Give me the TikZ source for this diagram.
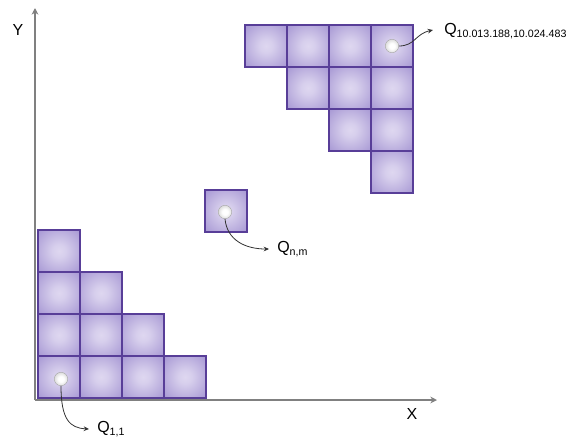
\documentclass[tikz,border=0pt]{standalone}
\usepackage{fontspec}
\setmainfont{Liberation Sans}
\usetikzlibrary{arrows.meta}
\definecolor{cellout}{RGB}{148,130,202}
\definecolor{cellin}{RGB}{222,215,240}
\definecolor{celledge}{RGB}{88,62,152}
\definecolor{axisgray}{RGB}{128,128,128}
\pgfdeclareradialshading{cellshade}{\pgfpoint{0bp}{0bp}}{%
  color(0bp)=(cellin); color(8bp)=(cellin!90!cellout); color(46bp)=(cellout); color(50bp)=(cellout)}
\pgfdeclareradialshading{ballshade}{\pgfpoint{0bp}{0bp}}{%
  color(0bp)=(white); color(10bp)=(white); color(30bp)=(gray!35); color(50bp)=(gray!80)}
\tikzset{
  cell/.style={rectangle, draw=celledge, line width=0.9pt, inner sep=0pt,
    minimum size=31.5pt, shading=cellshade, shade},
  ball/.style={circle, draw=gray!70, line width=0.3pt, inner sep=0pt,
    minimum size=10pt, shading=ballshade, shade},
  axis/.style={draw=axisgray, line width=1.5pt, -{Stealth[length=5pt,width=5pt]}},
  pointer/.style={draw=black!80, line width=0.6pt, -{Stealth[length=4pt,width=3.5pt]}},
  qlabel/.style={anchor=west, inner sep=0pt, font=\fontsize{12}{14}\selectfont},
  axlabel/.style={inner sep=0pt, font=\fontsize{12}{14}\selectfont}
}
\newcommand{\qsub}[1]{\textsubscript{\fontsize{8}{9}\selectfont #1}}
\begin{document}
\begin{tikzpicture}[x=0.75pt,y=-0.75pt]
\useasboundingbox (0,0) rectangle (581,436);
% axes
\coordinate (O) at (35,400);
\coordinate (ytop) at (35,8);
\coordinate (xend) at (437,400);
\draw[axis] (O) -- (ytop);
\draw[axis] (O) -- (xend);
\node[axlabel] (ylab) at (18,30) {Y};
\node[axlabel] (xlab) at (412,414) {X};
% bottom-left staircase
\foreach \c/\x in {1/59,2/101,3/143,4/185} \node[cell] (b1\c) at (\x,377) {};
\foreach \c/\x in {1/59,2/101,3/143} \node[cell] (b2\c) at (\x,335) {};
\foreach \c/\x in {1/59,2/101} \node[cell] (b3\c) at (\x,293) {};
\node[cell] (b41) at (59,251) {};
% middle cell
\node[cell] (mid) at (226,211) {};
% top-right staircase
\foreach \c/\x in {1/266,2/308,3/350,4/392} \node[cell] (t1\c) at (\x,46) {};
\foreach \c/\x in {2/308,3/350,4/392} \node[cell] (t2\c) at (\x,88) {};
\foreach \c/\x in {3/350,4/392} \node[cell] (t3\c) at (\x,130) {};
\node[cell] (t44) at (392,172) {};
% balls
\node[ball] (p11) at (61,379) {};
\node[ball] (pnm) at (225,212) {};
\node[ball] (pbig) at (392,46) {};
% labels
\node[qlabel] (l11) at (97,429) {Q\qsub{1,1}};
\node[qlabel] (lnm) at (277,249) {Q\qsub{n,m}};
\node[qlabel] (lbig) at (444,31) {Q\qsub{10.013.188,10.024.483}};
\coordinate (e11) at (89,429);
\coordinate (enm) at (269,249);
\coordinate (ebig) at (433,30);
% pointers
\draw[pointer] (p11.south) .. controls (61,420) and (70,428) .. (e11);
\draw[pointer] (pnm.south) .. controls (227,240) and (245,249) .. (enm);
\draw[pointer] (pbig.east) .. controls (415,46) and (415,34) .. (ebig);
\end{tikzpicture}
\end{document}
